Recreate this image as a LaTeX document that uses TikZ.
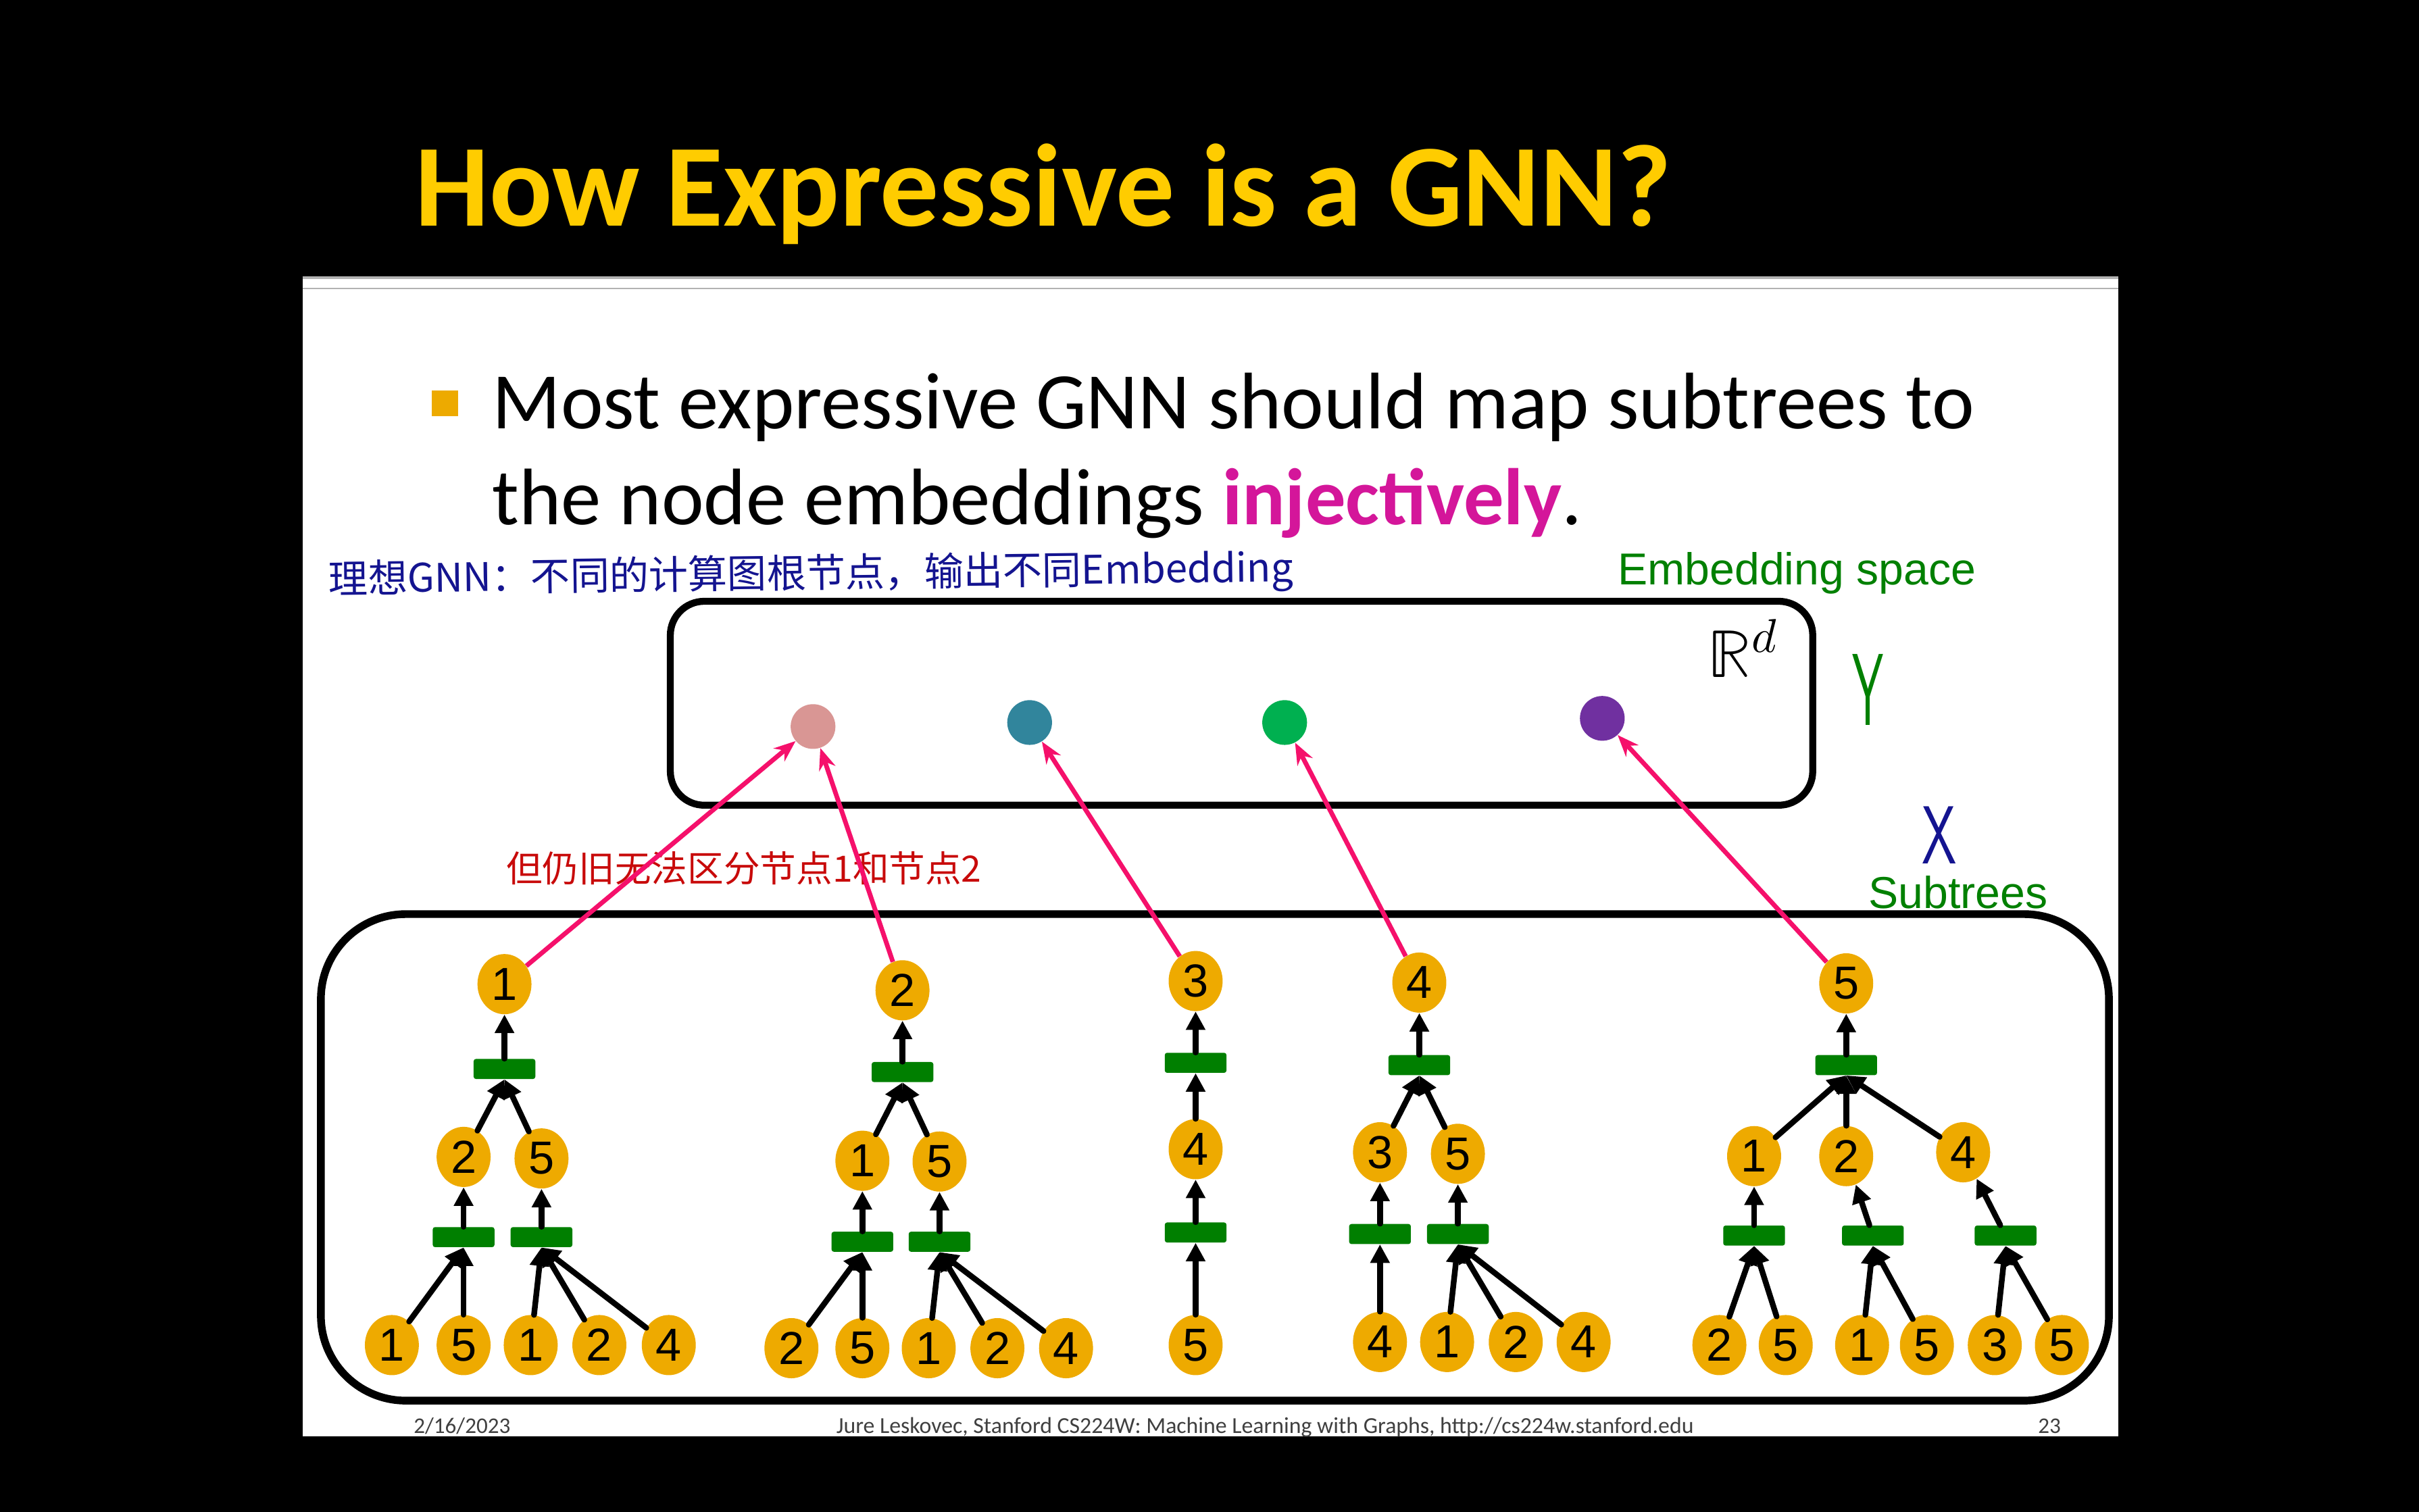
\documentclass[tikz,border=0pt]{standalone}
\usepackage{fontspec}
\usepackage{unicode-math}
\usepackage{tikz}
\usetikzlibrary{arrows.meta,shapes.geometric}
\setmainfont{Carlito}
\setmathfont{Latin Modern Math}
\newfontfamily\arialfont{Liberation Sans}
\newfontfamily\cjkfont{Noto Sans CJK SC}
\definecolor{titleyellow}{HTML}{FFCC00}
\definecolor{bulletgold}{HTML}{EDAA00}
\definecolor{injpink}{HTML}{D4169A}
\definecolor{nodegold}{HTML}{EEAA00}
\definecolor{aggreen}{HTML}{007F00}
\definecolor{maparrpink}{HTML}{F5106B}
\definecolor{labgreen}{HTML}{008000}
\definecolor{penblue}{HTML}{141490}
\definecolor{penred}{HTML}{C80A0A}
\definecolor{footgray}{HTML}{404040}
\definecolor{dotpink}{HTML}{D99694}
\definecolor{dotteal}{HTML}{31859C}
\definecolor{dotgreen}{HTML}{00B050}
\definecolor{dotpurple}{HTML}{7030A0}
\tikzset{
  tnode/.style={ellipse,fill=nodegold,minimum width=35pt,minimum height=39pt,
                inner sep=0pt,font=\arialfont\fontsize{30}{30}\selectfont},
  agg/.style={rectangle,fill=aggreen,rounded corners=1.5pt,
              minimum width=40pt,minimum height=13pt,inner sep=0pt},
  emb/.style={circle,minimum size=29pt,inner sep=0pt},
  treearr/.style={-{Triangle[length=12pt,width=12pt]},line width=3.7pt,
                  draw=black,line cap=round},
  maparr/.style={-{Stealth[length=14pt,width=11pt]},line width=3pt,
                 draw=maparrpink},
  spacebox/.style={draw=black,line width=4.5pt,rounded corners=22pt},
  treebox/.style={draw=black,line width=5pt,rounded corners=55pt},
  textline/.style={anchor=base west,inner sep=0pt}
}
\begin{document}
\begin{tikzpicture}[x=1pt,y=-1pt]
    \useasboundingbox (0,0) rectangle (1568,980);
    \fill[black] (0,0) rectangle (1568,980);
    \fill[white] (196,179) rectangle (1373,931);
    \draw[gray!60,line width=1.5pt] (196,180) -- (1373,180);
    \draw[gray!60,line width=1pt] (196,187) -- (1373,187);
    % title and bullet
    \node[textline,font=\bfseries\fontsize{76}{76}\selectfont,text=titleyellow]
      (title) at (269,146.7) {How Expressive is a GNN?};
    \node[fill=bulletgold,minimum size=17pt,inner sep=0pt] (blt) at (288.5,261.5) {};
    \node[textline,font=\fontsize{52}{52}\selectfont] (line1) at (319,278)
      {Most expressive GNN should map subtrees to};
    \node[textline,font=\fontsize{52}{52}\selectfont] (line2) at (319,340)
      {the node embeddings \textbf{\textcolor{injpink}{injectively}}.};
    \node[anchor=west,inner sep=0pt,rotate=0.7,text=penblue,
          font=\cjkfont\fontsize{25.5}{25.5}\selectfont] (ideal) at (213,377)
      {理想GNN：不同的计算图根节点，输出不同Embedding};
    \node[anchor=west,inner sep=0pt,text=penred,
          font=\cjkfont\fontsize{23.5}{23.5}\selectfont] (same) at (328,563)
      {但仍旧无法区分节点1和节点2};
    % embedding space
    \draw[spacebox] (434.5,389.8) rectangle (1175,522);
    \node[textline,text=labgreen,font=\arialfont\fontsize{29}{29}\selectfont]
      (espace) at (1048.5,379) {Embedding space};
    \node[textline,font=\fontsize{44}{44}\selectfont] (rd) at (1107,439) {$\mathbb{R}^d$};
    \node[inner sep=0pt,text=labgreen,font=\sffamily\fontsize{34}{34}\selectfont]
      (ymark) at (1211,447) {\scalebox{0.95}[1.95]{Y}};
    \node[inner sep=0pt,text=penblue,font=\sffamily\fontsize{30}{30}\selectfont]
      (xmark) at (1257,541.5) {\scalebox{1.2}[1.78]{X}};
    \node[emb,fill=dotpink] (pdot) at (527,471) {};
    \node[emb,fill=dotteal] (tdot) at (667.4,468.4) {};
    \node[emb,fill=dotgreen] (gdot) at (832.7,468.4) {};
    \node[emb,fill=dotpurple] (vdot) at (1038.6,465.7) {};
    % subtrees
    \draw[treebox] (208,592.6) rectangle (1367,908);
    \node[textline,text=labgreen,font=\arialfont\fontsize{29}{29}\selectfont]
      (stlabel) at (1211,589) {Subtrees};
    % tree of node 1
    \node[tnode] (t1r) at (327,638) {1};
    \node[agg] (t1a) at (327,693) {};
    \node[tnode] (t1m1) at (300.5,750) {2};
    \node[tnode] (t1m2) at (351,751) {5};
    \node[agg] (t1b1) at (300.5,802) {};
    \node[agg] (t1b2) at (351,802) {};
    \node[tnode] (t1l1) at (254,872) {1};
    \node[tnode] (t1l2) at (300.5,872) {5};
    \node[tnode] (t1l3) at (344,872) {1};
    \node[tnode] (t1l4) at (388.5,872) {2};
    \node[tnode] (t1l5) at (433.5,872) {4};
    \draw[treearr] (t1l1) -- (t1b1.south);
    \draw[treearr] (t1l2) -- (t1b1.south);
    \draw[treearr] (t1l3) -- (t1b2.south);
    \draw[treearr] (t1l4) -- (t1b2.south);
    \draw[treearr] (t1l5) -- (t1b2.south);
    \draw[treearr] (t1b1) -- (t1m1);
    \draw[treearr] (t1b2) -- (t1m2);
    \draw[treearr] (t1m1) -- (t1a.south);
    \draw[treearr] (t1m2) -- (t1a.south);
    \draw[treearr] (t1a) -- (t1r);
    % tree of node 2
    \node[tnode] (t2r) at (585,642) {2};
    \node[agg] (t2a) at (585,695) {};
    \node[tnode] (t2m1) at (559,752.5) {1};
    \node[tnode] (t2m2) at (609,753) {5};
    \node[agg] (t2b1) at (559,805) {};
    \node[agg] (t2b2) at (609,805) {};
    \node[tnode] (t2l1) at (513,874) {2};
    \node[tnode] (t2l2) at (559,874) {5};
    \node[tnode] (t2l3) at (602,874) {1};
    \node[tnode] (t2l4) at (646.5,874) {2};
    \node[tnode] (t2l5) at (691,874) {4};
    \draw[treearr] (t2l1) -- (t2b1.south);
    \draw[treearr] (t2l2) -- (t2b1.south);
    \draw[treearr] (t2l3) -- (t2b2.south);
    \draw[treearr] (t2l4) -- (t2b2.south);
    \draw[treearr] (t2l5) -- (t2b2.south);
    \draw[treearr] (t2b1) -- (t2m1);
    \draw[treearr] (t2b2) -- (t2m2);
    \draw[treearr] (t2m1) -- (t2a.south);
    \draw[treearr] (t2m2) -- (t2a.south);
    \draw[treearr] (t2a) -- (t2r);
    % tree of node 3
    \node[tnode] (t3r) at (775,636) {3};
    \node[agg] (t3a) at (775,689) {};
    \node[tnode] (t3m) at (775,745) {4};
    \node[agg] (t3b) at (775,799) {};
    \node[tnode] (t3l) at (775,872) {5};
    \draw[treearr] (t3l) -- (t3b.south);
    \draw[treearr] (t3b) -- (t3m);
    \draw[treearr] (t3m) -- (t3a.south);
    \draw[treearr] (t3a) -- (t3r);
    % tree of node 4
    \node[tnode] (t4r) at (920,637) {4};
    \node[agg] (t4a) at (920,690.5) {};
    \node[tnode] (t4m1) at (894.5,747) {3};
    \node[tnode] (t4m2) at (945,748) {5};
    \node[agg] (t4b1) at (894.5,800) {};
    \node[agg] (t4b2) at (945,800) {};
    \node[tnode] (t4l1) at (894.5,870) {4};
    \node[tnode] (t4l2) at (938,870) {1};
    \node[tnode] (t4l3) at (982.5,870) {2};
    \node[tnode] (t4l4) at (1026.5,870) {4};
    \draw[treearr] (t4l1) -- (t4b1.south);
    \draw[treearr] (t4l2) -- (t4b2.south);
    \draw[treearr] (t4l3) -- (t4b2.south);
    \draw[treearr] (t4l4) -- (t4b2.south);
    \draw[treearr] (t4b1) -- (t4m1);
    \draw[treearr] (t4b2) -- (t4m2);
    \draw[treearr] (t4m1) -- (t4a.south);
    \draw[treearr] (t4m2) -- (t4a.south);
    \draw[treearr] (t4a) -- (t4r);
    % tree of node 5
    \node[tnode] (t5r) at (1196.7,637.5) {5};
    \node[agg] (t5a) at (1196.7,690.5) {};
    \node[tnode] (t5m1) at (1137,749.5) {1};
    \node[tnode] (t5m2) at (1196.7,749.5) {2};
    \node[tnode] (t5m3) at (1272.5,747) {4};
    \node[agg] (t5b1) at (1137,801) {};
    \node[agg] (t5b2) at (1214,801) {};
    \node[agg] (t5b3) at (1300,801) {};
    \node[tnode] (t5l1) at (1114.5,872) {2};
    \node[tnode] (t5l2) at (1157.5,872) {5};
    \node[tnode] (t5l3) at (1207,872) {1};
    \node[tnode] (t5l4) at (1249,872) {5};
    \node[tnode] (t5l5) at (1293,872) {3};
    \node[tnode] (t5l6) at (1336.5,872) {5};
    \draw[treearr] (t5l1) -- (t5b1.south);
    \draw[treearr] (t5l2) -- (t5b1.south);
    \draw[treearr] (t5l3) -- (t5b2.south);
    \draw[treearr] (t5l4) -- (t5b2.south);
    \draw[treearr] (t5l5) -- (t5b3.south);
    \draw[treearr] (t5l6) -- (t5b3.south);
    \draw[treearr] (t5b1) -- (t5m1);
    \draw[treearr] (t5b2) -- (t5m2);
    \draw[treearr] (t5b3) -- (t5m3);
    \draw[treearr] (t5m1) -- (t5a.south);
    \draw[treearr] (t5m2) -- (t5a.south);
    \draw[treearr] (t5m3) -- (t5a.south);
    \draw[treearr] (t5a) -- (t5r);
    % roots mapped into the embedding space
    \draw[maparr] (t1r) -- (pdot);
    \draw[maparr] (t2r) -- (pdot);
    \draw[maparr] (t3r) -- (tdot);
    \draw[maparr] (t4r) -- (gdot);
    \draw[maparr] (t5r) -- (vdot);
    % footer
    \node[textline,text=footgray,font=\fontsize{14.5}{14.5}\selectfont] (fdate) at (268,929) {2/16/2023};
    \node[anchor=base,inner sep=0pt,text=footgray,font=\fontsize{14.8}{14.8}\selectfont]
      (fsrc) at (820,929) {Jure Leskovec, Stanford CS224W: Machine Learning with Graphs, http://cs224w.stanford.edu};
    \node[anchor=base east,inner sep=0pt,text=footgray,font=\fontsize{14.5}{14.5}\selectfont]
      (fpage) at (1336,929) {23};
  \end{tikzpicture}
\end{document}
